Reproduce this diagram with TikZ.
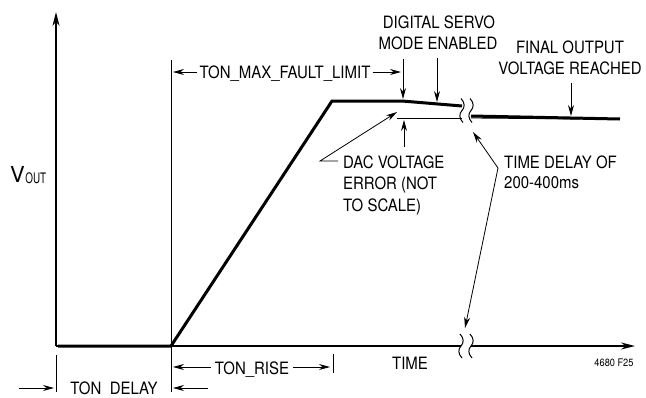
\documentclass[tikz,border=0pt]{standalone}
\usepackage{fontspec}
\setmainfont[FakeStretch=0.88]{TeX Gyre Heros}
\newfontfamily\vfont{TeX Gyre Heros}
\newfontfamily\subfont[FakeStretch=0.68]{TeX Gyre Heros}
\usetikzlibrary{arrows.meta}
\begin{document}
\begin{tikzpicture}[x=1pt,y=-1pt,
  lbl/.style={inner sep=0pt, font=\fontsize{17}{21}\selectfont},
  small/.style={inner sep=0pt, font=\fontsize{10.5}{12}\selectfont},
  arr/.style={-{Stealth[length=11pt,width=6pt]}, line width=0.8pt},
  axisln/.style={line width=1.6pt},
  axisarr/.style={axisln, -{Stealth[length=14pt,width=7pt]}},
  sig/.style={line width=3pt},
  thinln/.style={line width=0.8pt},
  brk/.pic={\draw[line width=1pt] (-1,-12) .. controls (3,-8) and (3,-3) .. (0,0) .. controls (-3,3) and (-3,8) .. (1,12);}]
\useasboundingbox (0,0) rectangle (646,397);
\fill[white] (0,0) rectangle (646,397);

% axes
\coordinate (O) at (56,346);
\coordinate (ytop) at (56,12);
\coordinate (xb1) at (461,346);
\coordinate (xb2) at (471,346);
\coordinate (xend) at (635,346);
\draw[axisarr] (O) -- (ytop);
\draw[axisln] (O) -- (xb1);
\draw[axisarr] (xb2) -- (xend);
\pic at (xb1) {brk};
\pic at (xb2) {brk};

% vertical markers
\draw[thinln] (171,60) -- (171,392);
\draw[thinln] (56,355) -- (56,392);
\draw[thinln] (333,354) -- (333,373);

% signal
\coordinate (s0) at (58,346);
\coordinate (s1) at (171,346);
\coordinate (s2) at (332,101);
\coordinate (s3) at (402,101);
\coordinate (s4) at (462,106);
\coordinate (s5) at (471,116);
\coordinate (s6) at (620,119);
\draw[sig] (s0) -- (s1) -- (s2) -- (s3) -- (s4);
\draw[sig] (s5) -- (s6);
% DAC level line
\draw[thinln] (397,118) -- (462,118);
\draw[thinln] (471,118) -- (580,119);
\pic at (462,110.5) {brk};
\pic at (471,110.5) {brk};

% V_OUT
\node[inner sep=0pt, anchor=base west] (vout) at (10,182)
  {\vfont\fontsize{22}{22}\selectfont V\kern0.5pt\raisebox{-1pt}{\subfont\fontsize{14.5}{14.5}\selectfont OUT}};

% TON_MAX_FAULT_LIMIT
\node[lbl, anchor=base] (tmax) at (285,78) {TON\_MAX\_FAULT\_LIMIT};
\coordinate (tmaxL) at (173,72);
\coordinate (tmaxR) at (401,72);
\draw[arr, shorten <=2pt] (tmax.west |- tmaxL) -- (tmaxL);
\draw[arr, shorten <=2pt] (tmax.east |- tmaxR) -- (tmaxR);

% DIGITAL SERVO MODE ENABLED
\node[lbl, anchor=base] (ds1) at (439,28) {DIGITAL SERVO};
\node[lbl, anchor=base] (ds2) at (438,49) {MODE ENABLED};
\coordinate (dsA0) at (403,59);
\coordinate (dsA1) at (403,99);
\coordinate (dsB0) at (437,58);
\coordinate (dsB1) at (437,102);
\draw[arr] (dsA0) -- (dsA1);
\draw[arr] (dsB0) -- (dsB1);

% FINAL OUTPUT VOLTAGE REACHED
\node[lbl, anchor=base] (fo1) at (570,53) {FINAL OUTPUT};
\node[lbl, anchor=base] (fo2) at (570,74) {VOLTAGE REACHED};
\coordinate (foA0) at (571,83);
\coordinate (foA1) at (571,116);
\draw[arr] (foA0) -- (foA1);

% DAC VOLTAGE ERROR
\node[lbl, anchor=base west] (dac1) at (343,168) {DAC VOLTAGE};
\node[lbl, anchor=base west] (dac2) at (343,189.5) {ERROR (NOT};
\node[lbl, anchor=base west] (dac3) at (343,211) {TO SCALE)};
\coordinate (dacS) at (338,161);
\coordinate (dacK) at (320,161);
\coordinate (dacT) at (397,112);
\draw[arr] (dacS) -- (dacK) -- (dacT);
\coordinate (dacU0) at (404,147);
\coordinate (dacU1) at (404,120);
\draw[arr] (dacU0) -- (dacU1);

% TIME DELAY OF 200-400ms
\node[lbl, anchor=base west] (td1) at (504,168) {TIME DELAY OF};
\node[lbl, anchor=base west] (td2) at (504,188.5) {200-400ms};
\coordinate (tdK) at (498,168);
\coordinate (tdT1) at (473,132);
\coordinate (tdT2) at (465,328);
\draw[arr] (tdK) -- (tdT1);
\draw[arr] (tdK) -- (tdT2);

% TIME axis label and figure id
\node[lbl, anchor=base] (time) at (410,369) {TIME};
\node[small, anchor=base] (fig) at (614,366) {4680 F25};

% TON_RISE
\node[lbl, anchor=base] (trise) at (252,374) {TON\_RISE};
\coordinate (trL) at (173,367);
\coordinate (trR) at (330,367);
\draw[arr, shorten <=4pt] (trise.west |- trL) -- (trL);
\draw[arr, shorten <=4pt] (trise.east |- trR) -- (trR);

% TON DELAY
\node[lbl, anchor=base] (tdel) at (114,394.5) {TON\hspace{0.5em}DELAY};
\coordinate (tdl0) at (19,388);
\coordinate (tdl1) at (54,388);
\coordinate (tdr0) at (208,388);
\coordinate (tdr1) at (173,388);
\draw[arr] (tdl0) -- (tdl1);
\draw[arr] (tdr0) -- (tdr1);
\end{tikzpicture}
\end{document}
